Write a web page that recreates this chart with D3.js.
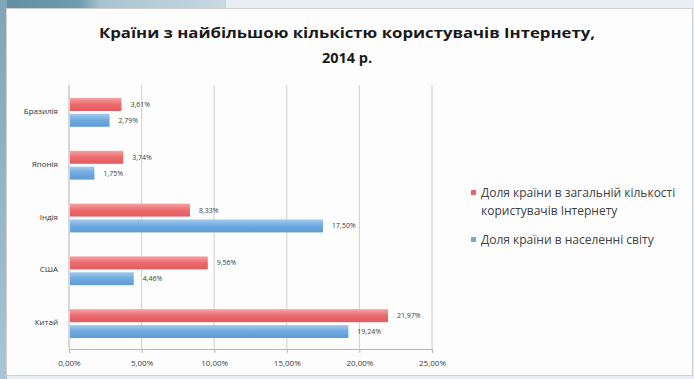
<!DOCTYPE html>
<html><head><meta charset="utf-8">
<script src="https://cdn.jsdelivr.net/npm/d3@7"></script>
<style>
html,body{margin:0;padding:0;background:#b9ccd6;}
svg{display:block;}
</style></head>
<body>
<script>
const categories = ["Бразилія", "Японія", "Індія", "США", "Китай"];
const seriesNames = ["Доля країни в загальній кількості користувачів Інтернету", "Доля країни в населенні світу"];
const usersShare = [3.61, 3.74, 8.33, 9.56, 21.97];
const populationShare = [2.79, 1.75, 17.50, 4.46, 19.24];
const xTicks = [0, 5, 10, 15, 20, 25];
const titleLines = ["Країни з найбільшою кількістю користувачів Інтернету,", "2014 р."];

const W = 694, H = 379;
const svg = d3.select("body").append("svg").attr("width", W).attr("height", H);
const defs = svg.append("defs");

// slide background pieces
const bgTop = defs.append("linearGradient").attr("id","bgTop").attr("x1",0).attr("x2",1).attr("y1",0).attr("y2",0);
bgTop.append("stop").attr("offset","0").attr("stop-color","#5f8f9f");
bgTop.append("stop").attr("offset","0.35").attr("stop-color","#6f9cac");
bgTop.append("stop").attr("offset","0.45").attr("stop-color","#a9c3cf");
bgTop.append("stop").attr("offset","1").attr("stop-color","#c8d9e1");
const bgLeft = defs.append("linearGradient").attr("id","bgLeft").attr("x1",0).attr("x2",0).attr("y1",0).attr("y2",1);
bgLeft.append("stop").attr("offset","0").attr("stop-color","#7fa5b6");
bgLeft.append("stop").attr("offset","1").attr("stop-color","#a9c6d4");

svg.append("rect").attr("x",0).attr("y",0).attr("width",W).attr("height",H).attr("fill","#e8eef1");
svg.append("rect").attr("x",0).attr("y",0).attr("width",226).attr("height",9).attr("fill","url(#bgTop)");
svg.append("rect").attr("x",0).attr("y",0).attr("width",7).attr("height",H).attr("fill","url(#bgLeft)");
svg.append("rect").attr("x",6.5).attr("y",8.5).attr("width",686).attr("height",367)
  .attr("fill","#fdfdfd").attr("stroke","#cfcfcf").attr("stroke-width",1);

// bar gradients
function barGrad(id, top, mid, bot){
  const g = defs.append("linearGradient").attr("id",id).attr("x1",0).attr("x2",0).attr("y1",0).attr("y2",1);
  g.append("stop").attr("offset","0").attr("stop-color",top);
  g.append("stop").attr("offset","0.5").attr("stop-color",mid);
  g.append("stop").attr("offset","1").attr("stop-color",bot);
}
barGrad("gRed", "#f5a3a3", "#ec6a6d", "#e25b5f");
barGrad("gBlue", "#a3cbef", "#6ea9df", "#5f9bd4");
const fills = ["url(#gRed)", "url(#gBlue)"];
const legendColors = ["#e8666a", "#6ea9df"];

// title
const title = svg.append("text").attr("text-anchor","middle")
  .attr("font-family","'Open Sans', 'Liberation Sans', sans-serif").attr("font-weight","bold")
  .attr("font-size",14.5).attr("fill","#1a1a1a");
title.append("tspan").attr("x",347).attr("y",38).attr("textLength",496).attr("lengthAdjust","spacingAndGlyphs").text(titleLines[0]);
title.append("tspan").attr("x",347).attr("y",63).text(titleLines[1]);

// scales
const x = d3.scaleLinear().domain([0,25]).range([69,432]);
const y = d3.scaleBand().domain(categories).range([85,349]);
const sub = d3.scaleBand().domain([0,1]).range([13, y.bandwidth()-11]).paddingInner(0.18);

// gridlines
const g = svg.append("g");
g.selectAll("line.grid").data(xTicks).join("line")
  .attr("x1",d=>x(d)).attr("x2",d=>x(d)).attr("y1",85).attr("y2",349)
  .attr("stroke","#d6d6d6").attr("stroke-width",1.2);

// x axis
const xAxis = d3.axisBottom(x).tickValues(xTicks)
  .tickFormat(d => d3.format(".2f")(d).replace(".", ",") + "%").tickSize(4).tickSizeOuter(0);
const ax = svg.append("g").attr("transform","translate(0,349)").call(xAxis);
ax.select(".domain").attr("stroke","#b5b5b5");
ax.selectAll(".tick line").attr("stroke","#b5b5b5");
ax.selectAll("text").attr("font-family","'Open Sans','Liberation Sans',sans-serif")
  .attr("font-size",8).attr("fill","#404040").attr("dy","1.2em");

// left axis line
svg.append("line").attr("x1",x(0)).attr("x2",x(0)).attr("y1",85).attr("y2",349).attr("stroke","#c8c8c8");

// category labels
svg.append("g").selectAll("text").data(categories).join("text")
  .attr("x",58).attr("y",d=>y(d)+y.bandwidth()/2+2.5).attr("text-anchor","end")
  .attr("font-family","'Open Sans','Liberation Sans',sans-serif").attr("font-size",8)
  .attr("fill","#333").text(d=>d);

// bars
const series = [usersShare, populationShare];
const fmt = v => d3.format(".2f")(v).replace(".", ",") + "%";
series.forEach((vals, si) => {
  const gg = svg.append("g");
  gg.selectAll("rect").data(categories).join("rect")
    .attr("x",x(0)+1).attr("y",(d)=>y(d)+sub(si))
    .attr("width",(d,i)=>x(vals[i])-x(0)-1).attr("height",sub.bandwidth())
    .attr("fill",fills[si]);
  gg.selectAll("text").data(categories).join("text")
    .attr("x",(d,i)=>x(vals[i])+9).attr("y",d=>y(d)+sub(si)+sub.bandwidth()/2+2.5)
    .attr("font-family","'Open Sans','Liberation Sans',sans-serif").attr("font-size",7)
    .attr("fill","#404040").text((d,i)=>fmt(vals[i]));
});

// legend
const lg = svg.append("g").attr("font-family","'Open Sans','Liberation Sans',sans-serif")
  .attr("font-size",12).attr("fill","#404040");
const legendLines = [["Доля країни в загальній кількості","користувачів Інтернету"],["Доля країни в населенні світу"]];
const legendY = [197, 244];
legendLines.forEach((lines, i) => {
  lg.append("rect").attr("x",471).attr("y",legendY[i]-7).attr("width",5).attr("height",5).attr("fill",legendColors[i]);
  lines.forEach((t, j) => {
    lg.append("text").attr("x",481).attr("y",legendY[i]+j*18).text(t);
  });
});
</script>
</body></html>
